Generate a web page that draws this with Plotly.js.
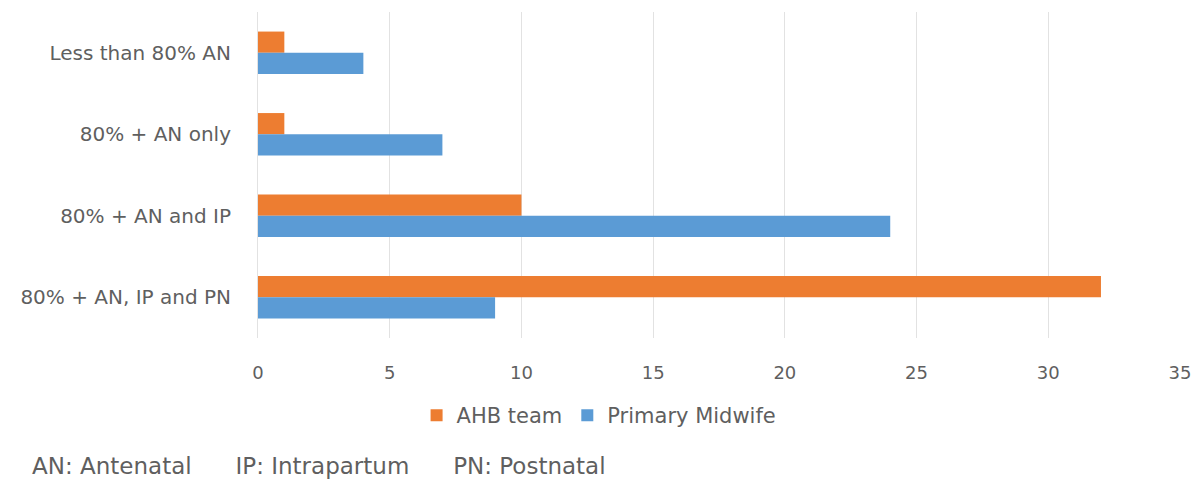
<!DOCTYPE html>
<html>
<head>
<meta charset="utf-8">
<script src="https://cdn.plot.ly/plotly-3.0.1.min.js"></script>
<style>html,body{margin:0;padding:0;background:#fff;}#chart{width:1204px;height:489px;}</style>
</head>
<body>
<div id="chart"></div>
<script>
var categories = ["Less than 80% AN", "80% + AN only", "80% + AN and IP", "80% + AN, IP and PN"];
var ahbTeam = [1, 1, 10, 32];
var primaryMidwife = [4, 7, 24, 9];
var xTicks = [0, 5, 10, 15, 20, 25, 30, 35];
var footnote = "AN: Antenatal&nbsp;&nbsp;&nbsp;&nbsp;&nbsp;&nbsp;IP: Intrapartum&nbsp;&nbsp;&nbsp;&nbsp;&nbsp;&nbsp;PN: Postnatal";

var traces = [
  {type: "bar", orientation: "h", name: "AHB team", y: categories, x: ahbTeam,
   marker: {color: "#ED7D31"}},
  {type: "bar", orientation: "h", name: "Primary Midwife", y: categories, x: primaryMidwife,
   marker: {color: "#5B9BD5"}}
];

var txt = "#5f5f5f";
var layout = {
  width: 1204, height: 489,
  margin: {l: 258, r: 24, t: 12, b: 151},
  paper_bgcolor: "#fff", plot_bgcolor: "#fff",
  barmode: "group", bargap: 0.48, bargroupgap: 0,
  font: {family: "'DejaVu Sans', sans-serif", color: txt, size: 18},
  xaxis: {range: [0, 35], tickvals: xTicks, showgrid: true, gridcolor: "#e2e2e2", gridwidth: 1,
          zeroline: false, showline: false, ticks: "outside", ticklen: 18, tickcolor: "rgba(0,0,0,0)",
          tickfont: {size: 18, color: txt}, fixedrange: true},
  yaxis: {autorange: "reversed", showgrid: false, zeroline: false, showline: true, linecolor: "#e2e2e2",
          ticks: "outside", ticklen: 22, tickcolor: "rgba(0,0,0,0)",
          tickfont: {size: 20, color: txt}},
  showlegend: true,
  legend: {orientation: "h", x: 0.172, xanchor: "left", y: -0.238, yanchor: "middle",
           font: {size: 21, color: txt}, traceorder: "normal", itemwidth: 30},
  annotations: [{xref: "paper", yref: "paper", x: -0.247, y: -0.393, xanchor: "left", yanchor: "middle",
                 text: footnote, showarrow: false,
                 font: {family: "'DejaVu Sans', sans-serif", size: 23, color: txt}}]
};

Plotly.newPlot("chart", traces, layout, {displayModeBar: false, staticPlot: true});
</script>
</body>
</html>
